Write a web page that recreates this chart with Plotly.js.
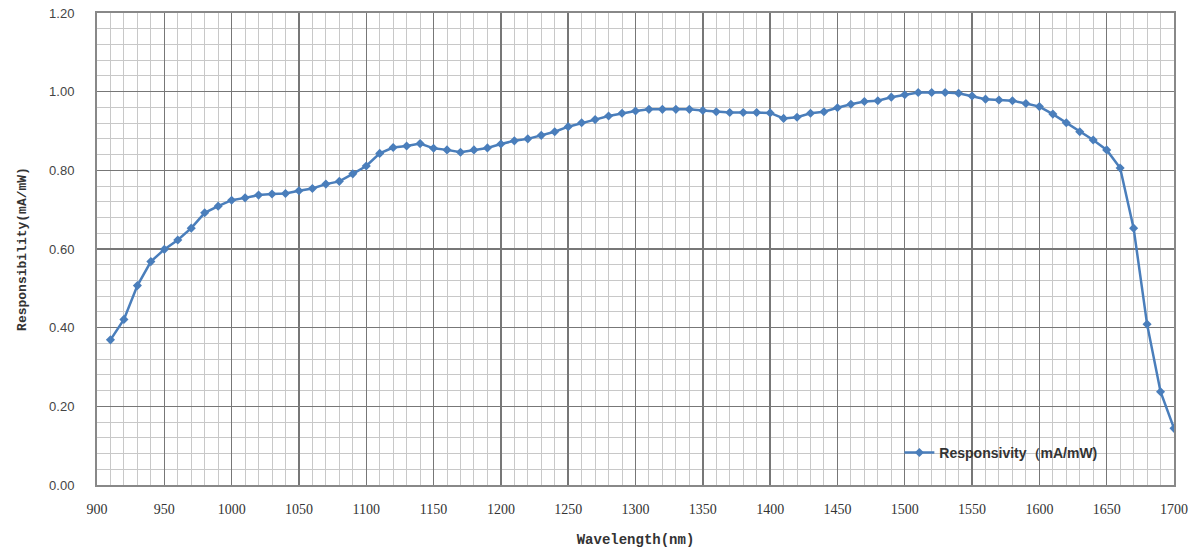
<!DOCTYPE html>
<html>
<head>
<meta charset="utf-8">
<script src="https://cdn.plot.ly/plotly-3.0.1.min.js"></script>
<style>html,body{margin:0;padding:0;background:#fff;}#chart{width:1195px;height:550px;}</style>
</head>
<body>
<div id="chart"></div>
<script>
const wavelength = [910,920,930,940,950,960,970,980,990,1000,1010,1020,1030,1040,1050,1060,1070,1080,1090,1100,
  1110,1120,1130,1140,1150,1160,1170,1180,1190,1200,1210,1220,1230,1240,1250,1260,1270,1280,1290,1300,
  1310,1320,1330,1340,1350,1360,1370,1380,1390,1400,1410,1420,1430,1440,1450,1460,1470,1480,1490,1500,
  1510,1520,1530,1540,1550,1560,1570,1580,1590,1600,1610,1620,1630,1640,1650,1660,1670,1680,1690,1700];
const responsivity = [0.369,0.421,0.507,0.568,0.599,0.623,0.653,0.692,0.709,0.724,0.730,0.737,0.740,0.741,0.748,0.754,0.765,0.772,0.791,0.811,
  0.843,0.858,0.862,0.868,0.856,0.852,0.846,0.852,0.857,0.867,0.875,0.880,0.889,0.898,0.911,0.921,0.929,0.938,0.945,0.951,
  0.955,0.955,0.955,0.955,0.952,0.949,0.947,0.947,0.947,0.946,0.932,0.935,0.945,0.949,0.959,0.968,0.975,0.977,0.986,0.992,
  0.998,0.998,0.998,0.996,0.989,0.981,0.979,0.977,0.970,0.962,0.943,0.921,0.898,0.877,0.852,0.806,0.653,0.409,0.237,0.144];
const seriesName = 'Responsivity（mA/mW)';
const xTitle = 'Wavelength(nm)';
const yTitle = 'Responsibility(mA/mW)';

const trace = {
  x: wavelength, y: responsivity, type: 'scatter', mode: 'lines+markers', name: seriesName,
  line: {color: '#4a7ebb', width: 2.5},
  marker: {symbol: 'diamond', size: 7, color: '#4a7ebb'}
};
const layout = {
  width: 1195, height: 550,
  margin: {l: 97, r: 21, t: 13, b: 65},
  paper_bgcolor: '#fff', plot_bgcolor: '#fff',
  showlegend: true,
  legend: {x: 0.745, y: 0.068, xanchor: 'left', yanchor: 'middle', bgcolor: 'rgba(0,0,0,0)',
    font: {family: 'Liberation Sans, Arial, sans-serif', size: 14, color: '#333', weight: 'bold'}},
  xaxis: {
    range: [900, 1700], dtick: 50, tick0: 900, showgrid: true, gridcolor: '#777', gridwidth: 1.4,
    minor: {dtick: 10, showgrid: true, gridcolor: '#c8c8c8', gridwidth: 1, ticks: ''},
    showline: true, linecolor: '#888', linewidth: 2, mirror: true, zeroline: false, ticks: '',
    tickfont: {family: 'Liberation Serif, Times New Roman, serif', size: 14, color: '#333'}, ticklabelstandoff: 10,
    title: {text: xTitle, font: {family: 'Liberation Mono, Courier New, monospace', size: 14, color: '#333', weight: 'bold'}, standoff: 18}
  },
  yaxis: {
    range: [0, 1.2], dtick: 0.2, tick0: 0, tickformat: '.2f', showgrid: true, gridcolor: '#777', gridwidth: 1.4,
    minor: {dtick: 0.04, showgrid: true, gridcolor: '#c8c8c8', gridwidth: 1, ticks: ''},
    showline: true, linecolor: '#888', linewidth: 2, mirror: true, zeroline: false, ticks: '',
    tickfont: {family: 'Liberation Sans, Arial, sans-serif', size: 13, color: '#444'}, ticklabelstandoff: 18,
    title: {text: yTitle, font: {family: 'Liberation Mono, Courier New, monospace', size: 13, color: '#333', weight: 'bold'}, standoff: 20}
  }
};
Plotly.newPlot('chart', [trace], layout, {displayModeBar: false, staticPlot: true});
</script>
</body>
</html>
